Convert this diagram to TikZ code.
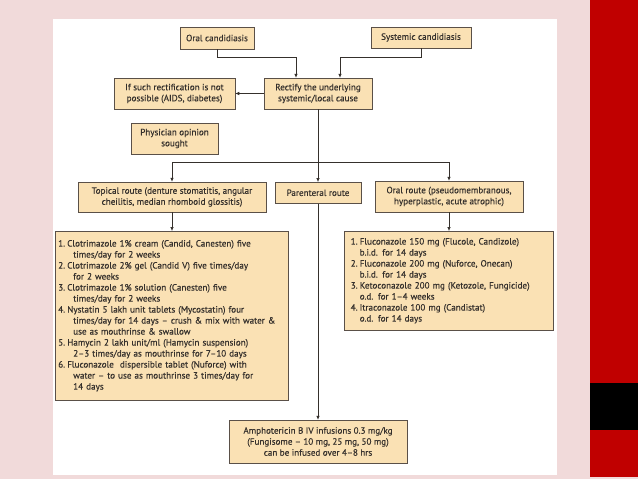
\documentclass[tikz,border=0pt]{standalone}
\usepackage{fontspec}
\setmainfont{PT Sans}
\newfontfamily\boxfont{PT Sans}[Ligatures=TeX,FakeBold=0.35]
\usetikzlibrary{arrows.meta,shadows}
\definecolor{boxfill}{HTML}{FAE1B4}
\definecolor{boxline}{HTML}{5A5048}
\definecolor{shadowc}{HTML}{A88B66}
\definecolor{ink}{HTML}{35302C}
\definecolor{slidepink}{HTML}{F1DADA}
\definecolor{slidered}{HTML}{C00000}
\newcommand\itemno[1]{\makebox[9pt][l]{#1}}
\begin{document}
\begin{tikzpicture}[x=1pt,y=-1pt,
  box/.style={draw=boxline,line width=0.5pt,fill=boxfill,text=ink,
    font=\boxfont\fontsize{9.1}{11}\selectfont,align=center,inner sep=2pt,
    drop shadow={shadow xshift=1.2pt,shadow yshift=-1.2pt,fill=shadowc,opacity=1}},
  listbox/.style={box,align=left,anchor=north west},
  link/.style={draw=ink,line width=0.6pt},
  arr/.style={link,-{Latex[length=4pt,width=3.5pt]}}]
% slide background
\fill[slidepink] (0,0) rectangle (638,479);
\fill[white] (53,19) rectangle (557,475);
\fill[slidered] (590,0) rectangle (638,477);
\fill[black] (590,383) rectangle (638,430);
\useasboundingbox (0,0) rectangle (638,479);

% top row
\node[box,minimum width=74pt,minimum height=22pt] (oral) at (217,38) {Oral candidiasis};
\node[box,minimum width=100pt,minimum height=21pt] (systemic) at (421,37.5) {Systemic candidiasis};
\node[box,minimum width=108pt,minimum height=31pt] (rectify) at (318,93.5) {Rectify the underlying\\systemic/local cause};
\node[box,minimum width=121pt,minimum height=31pt] (notpossible) at (174.5,93.5) {If such rectification is not\\possible (AIDS, diabetes)};
\node[box,minimum width=87pt,minimum height=31pt] (physician) at (174.5,138.5) {Physician opinion\\sought};

% routes
\node[box,minimum width=188pt,minimum height=30pt] (topical) at (172,197) {Topical route (denture stomatitis, angular\\cheilitis, median rhomboid glossitis)};
\node[box,minimum width=86pt,minimum height=21pt,anchor=north] (parenteral) at (318,182) {Parenteral route};
\node[box,minimum width=148pt,minimum height=31pt] (oralroute) at (449,196.5) {Oral route (pseudomembranous,\\hyperplastic, acute atrophic)};

% drug lists
\node[listbox,text width=227pt,minimum height=169pt,inner xsep=3pt] (topicallist) at (55,231) {%
\itemno{1.}Clotrimazole 1\% cream (Candid, Canesten) five\\
\hspace*{15pt}times/day for 2 weeks\\
\itemno{2.}Clotrimazole 2\% gel (Candid V) five times/day\\
\hspace*{15pt}for 2 weeks\\
\itemno{3.}Clotrimazole 1\% solution (Canesten) five\\
\hspace*{15pt}times/day for 2 weeks\\
\itemno{4.}Nystatin 5 lakh unit tablets (Mycostatin) four\\
\hspace*{15pt}times/day for 14 days -- crush \& mix with water \&\\
\hspace*{15pt}use as mouthrinse \& swallow\\
\itemno{5.}Hamycin 2 lakh unit/ml (Hamycin suspension)\\
\hspace*{15pt}2--3 times/day as mouthrinse for 7--10 days\\
\itemno{6.}Fluconazole \ dispersible tablet (Nuforce) with\\
\hspace*{15pt}water -- to use as mouthrinse 3 times/day for\\
\hspace*{15pt}14 days};
\node[listbox,text width=196pt,minimum height=99pt,inner xsep=6.5pt] (orallist) at (344,231) {%
\itemno{1.}Fluconazole 150 mg (Flucole, Candizole)\\
\hspace*{9pt}b.i.d. for 14 days\\
\itemno{2.}Fluconazole 200 mg (Nuforce, Onecan)\\
\hspace*{9pt}b.i.d. for 14 days\\
\itemno{3.}Ketoconazole 200 mg (Ketozole, Fungicide)\\
\hspace*{9pt}o.d. for 1--4 weeks\\
\itemno{4.}Itraconazole 100 mg (Candistat)\\
\hspace*{9pt}o.d. for 14 days};
\node[box,minimum width=178pt,minimum height=43pt] (ampho) at (318,441.5) {Amphotericin B IV infusions 0.3 mg/kg\\(Fungisome -- 10 mg, 25 mg, 50 mg)\\can be infused over 4--8 hrs};

% connectors
\draw[arr] (oral.south) |- ++(0,8) -| ([xshift=-22pt]rectify.north);
\draw[arr] (systemic.south) |- ++(0,9) -| ([xshift=22pt]rectify.north);
\draw[arr] (rectify.west) -- (notpossible.east);
\coordinate (split) at (318,162);
\draw[link] (rectify.south) -- (split);
\draw[arr] (split) -| (topical.north);
\draw[arr] (split) -| (oralroute.north);
\draw[arr] (split) -- (parenteral.north);
\draw[arr] (topical.south) -- (topical.south |- topicallist.north);
\draw[arr] (oralroute.south) -- (oralroute.south |- orallist.north);
\draw[arr] (parenteral.south) -- (ampho.north);
\end{tikzpicture}
\end{document}
